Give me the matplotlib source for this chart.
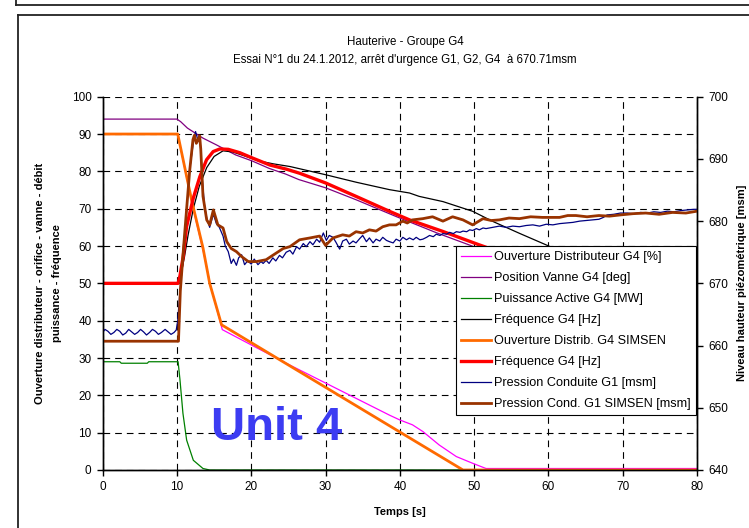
import matplotlib
matplotlib.use("Agg")
import matplotlib.pyplot as plt
from matplotlib.lines import Line2D

plt.rcParams['font.family'] = ['Liberation Sans', 'DejaVu Sans']

# ---------------- data ----------------
# Ouverture Distributeur G4 [%]
t_ouv = [0, 10.1, 12.0, 13.5, 14.5, 16.1, 18, 20, 25, 30, 35, 38.6, 40, 41.7, 43.1, 45.3, 47.6, 49.8, 51.6, 80]
v_ouv = [90, 90, 71.5, 59, 49.5, 37.6, 35.6, 33.5, 28.3, 23.3, 18.3, 14.7, 13.4, 12.1, 10.3, 6.7, 3.6, 1.8, 0.4, 0.4]

# Position Vanne G4 [deg]
t_van = [0, 10.0, 10.5, 11.4, 13.5, 15.3, 17.9, 20.1, 22.4, 24.6, 26.4, 30, 34.1, 39.5, 45, 50, 60, 70, 80]
v_van = [94, 94, 93.3, 91.6, 88.9, 87.1, 84.4, 82.8, 80.8, 79.3, 77.8, 75.6, 72.4, 67.9, 63.5, 59.8, 53.5, 48.2, 43.8]

# Puissance Active G4 [MW]
t_pui = [0, 2.3, 2.5, 6.0, 6.2, 10.15, 10.4, 10.8, 11.3, 12.2, 13.5, 14.4, 80]
v_pui = [29.0, 29.0, 28.6, 28.6, 29.0, 29.0, 24.2, 15.2, 8.0, 2.6, 0.4, 0.0, 0.0]

# Fréquence G4 [Hz] (mesure)
t_freq = [0, 10.2, 10.6, 11.0, 11.5, 12.2, 13.0, 14.0, 15.0, 16.2, 17.5, 19, 21, 23, 25.2, 30, 34.1, 38.6, 41.3,
          42.6, 45.8, 49.8, 52.5, 56.1, 59.7, 65]
v_freq = [50, 50, 53, 57, 63, 70, 76, 81, 84, 85.5, 85.2, 84.2, 82.8, 82, 81.3, 79.1, 77.1, 75.1, 74.2,
          73.3, 71.9, 69.3, 66.6, 63.4, 60.3, 55.5]

# Ouverture Distrib. G4 SIMSEN
t_ouv_sim = [0, 10.1, 12.0, 13.5, 14.4, 16.0, 48.5, 80]
v_ouv_sim = [90, 90, 72, 59.5, 50, 38.9, 0, 0]

# Fréquence G4 [Hz] SIMSEN
t_freq_sim = [0, 10.15, 10.4, 10.84, 11.29, 12.19, 13.08, 13.98, 14.87, 15.77, 16.9, 18.45, 20.25, 22.5, 24.7,
              26.5, 30, 34.1, 38.6, 41.3, 45.8, 50.7, 55, 60, 65, 70, 75, 80]
v_freq_sim = [50, 50, 52, 57.2, 65.2, 72.8, 78.6, 83.1, 85.3, 86.0, 85.9, 85.0, 83.5, 81.7, 80.6,
              79.5, 76.9, 73.3, 69.3, 67.0, 63.9, 60.3, 57.3, 53.9, 50.9, 48.4, 46.4, 44.8]

# Pression Conduite G1 [msm] (mesure)
t_pc = [0, 0.3, 0.7, 1.1, 1.5, 1.9, 2.3, 2.7, 3.1, 3.5, 3.9, 4.3, 4.7, 5.1, 5.5, 5.9, 6.3, 6.7, 7.1, 7.5,
        7.9, 8.4, 8.8, 9.2, 9.6, 9.9,
        10.1, 10.4, 10.8, 11.3, 11.7, 12.2, 12.5, 12.8, 13.1, 13.4, 13.7, 14.0, 14.4, 14.9, 15.3, 15.7,
        16.2, 16.5, 16.9, 17.3, 17.6, 18.0, 18.3, 18.7, 19.1, 19.5, 20.0, 20.4, 20.9, 21.3, 21.6, 22.0,
        22.4, 22.9, 23.3, 23.8, 24.2, 24.7, 25.2, 25.6, 26.1, 26.5, 27.0, 27.4, 27.9, 28.3, 28.8, 29.2,
        29.7, 30.1, 30.5, 31.0, 31.4, 31.9, 32.3, 32.8, 33.2, 33.7, 34.1, 34.6, 35.0, 35.5, 35.9, 36.4,
        36.8, 37.3, 37.7, 38.2, 38.6, 39.1, 39.5, 40.0, 40.4, 40.9, 41.3, 41.8, 42.2, 42.7, 43.1, 43.6,
        44.0, 44.5, 44.9, 45.4, 45.8, 46.3, 46.7, 47.2, 47.6, 48.1, 48.5, 49.0, 49.4, 49.8, 50.3, 50.7,
        51.2, 51.6, 52.5, 53.4, 54.3, 55.2, 56.1, 57.0, 57.9, 58.8, 59.7, 60.6, 61.5, 62.4, 63.3, 64.2,
        65.1, 66.0, 66.8, 67.4, 67.9, 68.8, 69.7, 70.6, 71.5, 72.4, 73.3, 74.2, 75.1, 76.0, 76.9, 77.8,
        78.7, 79.6, 80]
v_pc = [662.1, 662.6, 662.3, 661.8, 662.1, 662.6, 662.3, 661.7, 662.0, 662.6, 662.2, 661.8, 662.1, 662.6,
        662.2, 661.7, 662.1, 662.6, 662.3, 661.8, 662.1, 662.6, 662.2, 661.8, 662.1, 662.5,
        664.0, 668.8, 673.6, 681.8, 688.2, 692.6, 694.4, 693.1, 693.4, 686.8, 682.6, 680.5, 679.0, 681.1,
        679.6, 679.0, 677.6, 676.0, 675.1, 673.2, 673.9, 672.9, 674.1, 674.6, 673.0, 673.6, 673.1, 673.9,
        673.0, 673.5, 673.2, 673.7, 673.2, 674.1, 673.6, 674.5, 674.1, 675.0, 675.3, 674.7, 675.9, 675.5,
        676.4, 675.9, 676.7, 676.2, 677.1, 676.6, 678.1, 676.9, 677.7, 677.4, 676.6, 675.5, 676.8, 677.1,
        676.3, 676.8, 676.5, 677.2, 677.7, 676.7, 677.3, 676.5, 677.1, 676.8, 677.4, 676.9, 676.7, 676.5,
        677.1, 676.8, 677.4, 677.0, 677.3, 677.0, 677.4, 677.0, 677.1, 677.4, 677.7, 677.5, 677.9, 677.7,
        678.0, 677.9, 678.2, 678.0, 678.3, 678.2, 678.4, 678.3, 678.6, 678.5, 678.8, 678.6, 678.9, 678.8,
        679.0, 679.2, 679.0, 679.2, 679.1, 679.3, 679.4, 679.2, 679.5, 679.4, 679.6, 679.7, 679.8, 680.0,
        680.1, 680.2, 680.3, 680.6, 681.0, 681.1, 681.3, 681.3, 681.2, 681.4, 681.3, 681.5, 681.4, 681.6,
        681.5, 681.7, 681.8, 681.9, 681.9]

# Pression Cond. G1 SIMSEN [msm]
t_pc_sim = [0, 10.2, 10.45, 10.9, 11.3, 11.7, 12.15, 12.35, 12.6, 12.85, 13.05, 13.2, 13.5, 14.0, 14.4,
            14.9, 15.5, 16.2, 16.7, 17.3, 18.0, 18.7, 19.6, 20.7, 22.0, 23.4, 24.3, 25.2, 26.5, 27.9,
            29.2, 30.0, 31.0, 32.3, 33.2, 34.1, 35.0, 35.9, 36.8, 37.7, 38.6, 39.5, 40.4, 41.0, 41.7,
            43.1, 44.4, 45.8, 47.1, 48.5, 49.8, 51.2, 52.3, 53.4, 54.7, 56.1, 57.6, 59.2, 61.5, 62.6,
            63.7, 65.2, 66.8, 68.2, 69.7, 71.4, 73.1, 74.9, 76.7, 78.5, 80]
v_pc_sim = [660.7, 660.7, 668.8, 676.0, 682.0, 688.0, 693.1, 693.8, 692.5, 693.1, 693.7, 691.6, 684.0, 680.2,
            679.4, 681.8, 679.4, 678.9, 676.7, 675.6, 675.1, 674.3, 673.5, 673.5, 673.8, 674.9, 675.6,
            675.9, 677.0, 677.3, 677.6, 676.1, 677.3, 677.8, 677.6, 678.3, 678.1, 678.6, 678.4, 679.1,
            679.4, 679.4, 680.0, 679.7, 680.2, 680.4, 680.7, 680.0, 680.7, 680.2, 679.4, 680.4, 680.1,
            680.2, 680.5, 680.4, 680.7, 680.6, 680.6, 680.9, 680.9, 680.7, 680.9, 680.8, 681.0, 681.2,
            681.3, 681.1, 681.4, 681.3, 681.6]

x_ticks = [0, 10, 20, 30, 40, 50, 60, 70, 80]
y_ticks = [0, 10, 20, 30, 40, 50, 60, 70, 80, 90, 100]
y2_ticks = [640, 650, 660, 670, 680, 690, 700]

# ---------------- figure ----------------
W, H = 749, 528
fig = plt.figure(figsize=(W / 100, H / 100), dpi=100)


def fx(px):
    return px / W


def fy(py):
    return 1 - py / H


# outer frames (figure decoration)
fig.add_artist(Line2D([fx(16), fx(16)], [fy(0), fy(4.5)], color='#222222', lw=1.3))
fig.add_artist(Line2D([fx(16), 1.0], [fy(4.5), fy(4.5)], color='#222222', lw=1.3))
fig.add_artist(Line2D([fx(18), fx(18)], [fy(15), 0.0], color='#222222', lw=1.3))
fig.add_artist(Line2D([fx(18), 1.0], [fy(15), fy(15)], color='#222222', lw=1.3))

ax = fig.add_axes([fx(102.7), fy(470), (697 - 102.7) / W, (470 - 96.7) / H])
ax2 = ax.twinx()

l1, = ax.plot(t_ouv, v_ouv, color='#FF00FF', lw=0.9, label='Ouverture Distributeur G4 [%]')
l2, = ax.plot(t_van, v_van, color='#800080', lw=0.9, label='Position Vanne G4 [deg]')
l3, = ax.plot(t_pui, v_pui, color='#008000', lw=0.9, label='Puissance Active G4 [MW]')
l4, = ax.plot(t_freq, v_freq, color='black', lw=0.9, label='Fréquence G4 [Hz]')
l5, = ax.plot(t_ouv_sim, v_ouv_sim, color='#FF6A00', lw=2.0, label='Ouverture Distrib. G4 SIMSEN')
l6, = ax.plot(t_freq_sim, v_freq_sim, color='#FF0000', lw=2.4, label='Fréquence G4 [Hz]')
l7, = ax2.plot(t_pc, v_pc, color='#000080', lw=0.9, label='Pression Conduite G1 [msm]')
l8, = ax2.plot(t_pc_sim, v_pc_sim, color='#993300', lw=2.0, label='Pression Cond. G1 SIMSEN [msm]')

ax.set_xlim(0, 80)
ax.set_ylim(0, 100)
ax2.set_ylim(640, 700)
ax.set_xticks(x_ticks)
ax.set_yticks(y_ticks)
ax2.set_yticks(y2_ticks)

ax.grid(True, color='black', linestyle=(0, (6, 4.5)), linewidth=0.8)
ax.set_axisbelow(True)
for a in (ax, ax2):
    a.spines['top'].set_visible(False)
    for s in a.spines.values():
        s.set_linewidth(1.0)
ax.tick_params(axis='both', direction='out', length=4, width=1, labelsize=8.5, pad=4)
ax2.tick_params(axis='y', direction='out', length=4, width=1, labelsize=8.5, pad=4)

leg = ax2.legend(handles=[l1, l2, l3, l4, l5, l6, l7, l8], loc='upper left',
                 bbox_to_anchor=((456 - 102.7) / 594.3, (470 - 246) / 373.3),
                 borderaxespad=0, fontsize=9.1, frameon=True, fancybox=False, shadow=False,
                 handlelength=2.35, handletextpad=0.25, labelspacing=0.71, borderpad=0.42)
leg.get_frame().set_edgecolor('black')
leg.get_frame().set_linewidth(0.8)
leg.get_frame().set_alpha(1)

# titles and labels
fig.text(fx(405), fy(42), 'Hauterive - Groupe G4', ha='center', va='center', fontsize=8.3)
fig.text(fx(405), fy(60), "Essai N°1 du 24.1.2012, arrêt d'urgence G1, G2, G4  à 670.71msm",
         ha='center', va='center', fontsize=8.3)
fig.text(fx(400), fy(512), 'Temps [s]', ha='center', va='center', fontsize=8, fontweight='bold')
fig.text(fx(40), fy(283), 'Ouverture distributeur - orifice - vanne - débit', ha='center', va='center',
         rotation=90, fontsize=8, fontweight='bold')
fig.text(fx(57), fy(283), 'puissance - fréquence', ha='center', va='center',
         rotation=90, fontsize=8, fontweight='bold')
fig.text(fx(742), fy(283), 'Niveau hauteur piézométrique [msm]', ha='center', va='center',
         rotation=90, fontsize=8, fontweight='bold')

fig.text(fx(276.5), fy(428), 'Unit 4', ha='center', va='center', fontsize=34, fontweight='bold',
         color='#3C3CF2')

fig.savefig('out.png', dpi=100)
